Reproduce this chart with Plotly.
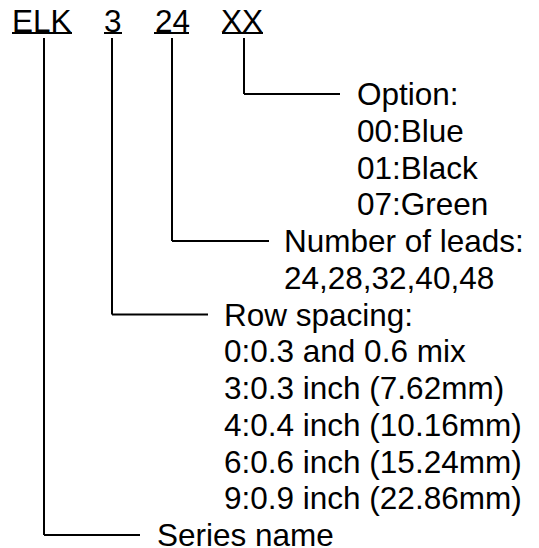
import plotly.graph_objects as go

# ---- content ----
code_parts = ["ELK", "3", "24", "XX"]
option_title = "Option:"
option_items = ["00:Blue", "01:Black", "07:Green"]
leads_title = "Number of leads:"
leads_items = ["24,28,32,40,48"]
spacing_title = "Row spacing:"
spacing_items = [
    "0:0.3 and 0.6 mix",
    "3:0.3 inch (7.62mm)",
    "4:0.4 inch (10.16mm)",
    "6:0.6 inch (15.24mm)",
    "9:0.9 inch (22.86mm)",
]
series_title = "Series name"

# ---- layout geometry (pixels, y downward) ----
W, H = 539, 548
FONT = dict(family="Liberation Sans, Arial, sans-serif", size=31.5, color="black")
LINE = dict(color="black", width=2)

code_centers = [42, 113, 172, 242]
code_underline = [(12, 72), (104, 122), (154, 189), (222, 263)]
code_cap_mid = 21
underline_y = 33
stem_top = 38

row0 = 94
row_step = 36.75

fig = go.Figure()
shapes = []
annotations = []

for name, cx, (u0, u1) in zip(code_parts, code_centers, code_underline):
    annotations.append(dict(x=cx, y=code_cap_mid, text=name, xanchor="center", yanchor="middle"))
    shapes.append(dict(type="line", x0=u0, x1=u1, y0=underline_y, y1=underline_y, line=LINE))

# blocks: (stem x, row index of title, elbow end x, text x, lines)
blocks = [
    (code_centers[3] + 2, 0, 340, 357, [option_title] + option_items),
    (code_centers[2], 4, 269, 284, [leads_title] + leads_items),
    (code_centers[1] - 1, 6, 208, 224, [spacing_title] + spacing_items),
    (44, 12, 140, 156.5, [series_title]),
]

for sx, r, ex, tx, lines in blocks:
    ty = row0 + r * row_step
    shapes.append(dict(type="line", x0=sx, x1=sx, y0=stem_top, y1=ty, line=LINE))
    shapes.append(dict(type="line", x0=sx, x1=ex, y0=ty, y1=ty, line=LINE))
    for i, t in enumerate(lines):
        annotations.append(dict(x=tx, y=ty + i * row_step, text=t, xanchor="left", yanchor="middle"))

for a in annotations:
    a.update(xref="x", yref="y", showarrow=False, font=FONT, borderpad=0, borderwidth=0)
for s in shapes:
    s.update(xref="x", yref="y", layer="above")

fig.update_layout(
    width=W, height=H,
    margin=dict(l=0, r=0, t=0, b=0),
    paper_bgcolor="white", plot_bgcolor="white",
    xaxis=dict(range=[0, W], visible=False, fixedrange=True),
    yaxis=dict(range=[H, 0], visible=False, fixedrange=True),
    shapes=shapes, annotations=annotations,
    showlegend=False,
)

fig.write_html("out.html", config={"displayModeBar": False},
               post_script="document.body.style.margin='0';document.body.style.overflow='hidden';")
